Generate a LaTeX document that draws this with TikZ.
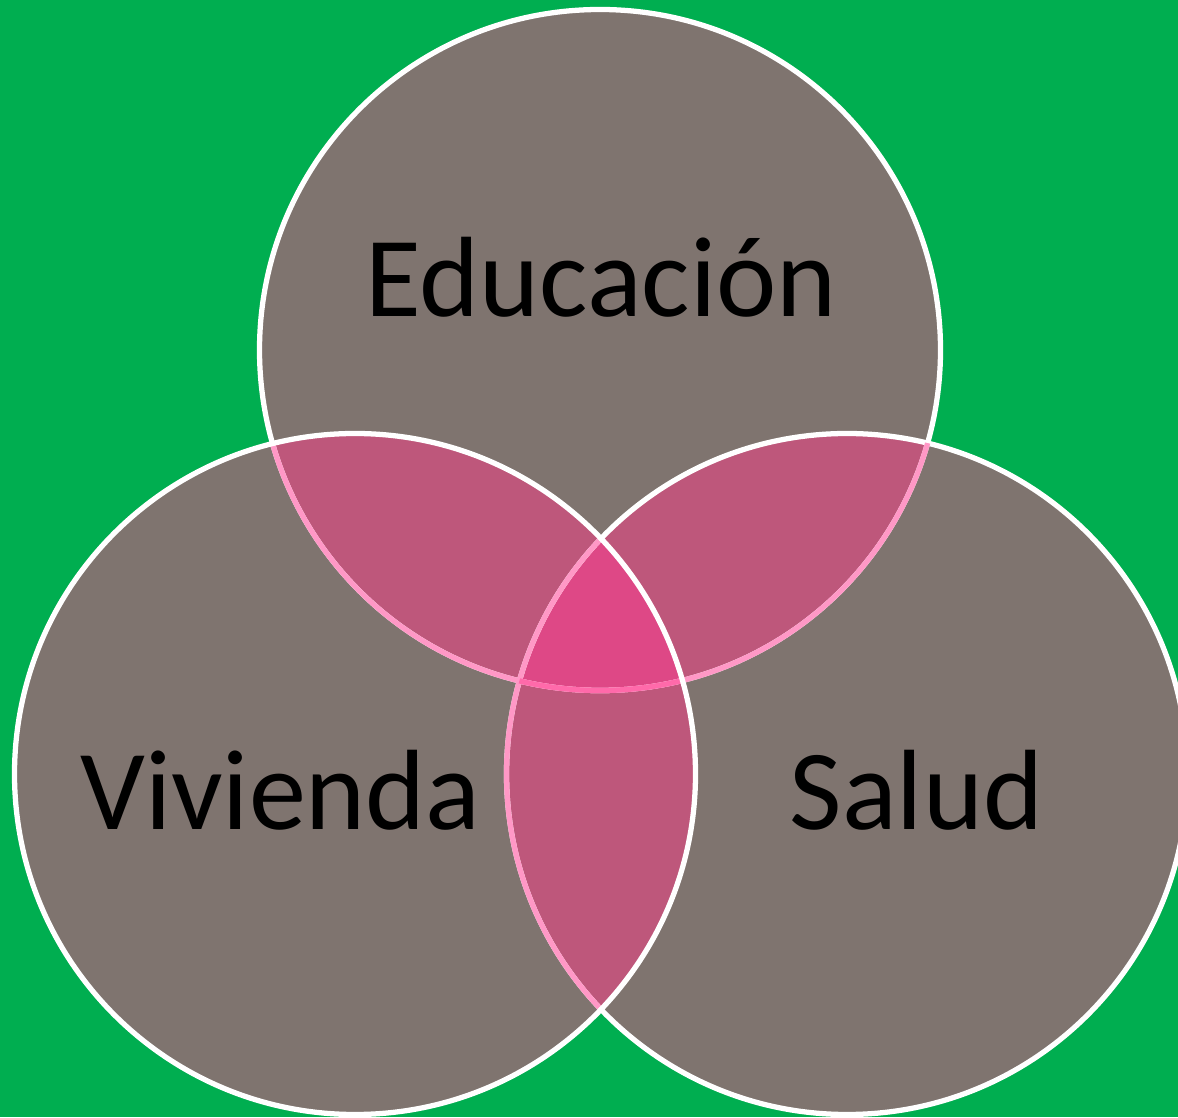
\documentclass[tikz,border=0pt]{standalone}
\usepackage{fontspec}
\setmainfont{Carlito}
\definecolor{fondo}{HTML}{00AE50}
\definecolor{gris}{HTML}{7F746F}
\definecolor{rosa}{HTML}{BE577B}
\definecolor{fucsia}{HTML}{DE4886}
\definecolor{rosaclaro}{HTML}{FF98C6}
\definecolor{rosafuerte}{HTML}{FF6AAA}
\newcommand{\radio}{6.81}

\begin{document}
\begin{tikzpicture}[borde/.style={draw=white, line width=3pt},
                    bordesuave/.style={line width=3pt},
                    etiqueta/.style={font=\fontsize{65}{78}\selectfont, anchor=base, text=black, inner sep=0pt}]
                \fill[fondo](0, 0)rectangle(23.56, 22.34);
                \useasboundingbox(0, 0)rectangle(23.56, 22.34);

                \coordinate(E)at(12.0, 15.34);
                \coordinate(V)at(7.1, 6.86);
                \coordinate(S)at(16.94, 6.86);

                % circulos
                \fill[gris](E)circle(\radio);
                \fill[gris](V)circle(\radio);
                \fill[gris](S)circle(\radio);

                % intersecciones
                \begin{scope}
                    \clip(E)circle(\radio);
                    \fill[rosa](V)circle(\radio);
                    \fill[rosa](S)circle(\radio);
                \end{scope}
                \begin{scope}
                    \clip(V)circle(\radio);
                    \fill[rosa](S)circle(\radio);
                \end{scope}
                \begin{scope}
                    \clip(E)circle(\radio);
                    \clip(V)circle(\radio);
                    \fill[fucsia](S)circle(\radio);
                \end{scope}

                % bordes
                \draw[borde](E)circle(\radio);
                \draw[borde](S)circle(\radio);
                \begin{scope}
                    \clip(V)circle(\radio);
                    \draw[bordesuave, rosaclaro](E)circle(\radio);
                    \draw[bordesuave, rosaclaro](S)circle(\radio);
                \end{scope}
                \begin{scope}
                    \clip(S)circle(\radio);
                    \draw[bordesuave, rosaclaro](E)circle(\radio);
                \end{scope}
                \begin{scope}
                    \clip(V)circle(\radio);
                    \clip(S)circle(\radio);
                    \draw[bordesuave, rosafuerte](E)circle(\radio);
                \end{scope}
                \draw[borde](V)circle(\radio);

                \node[etiqueta](edu)at(12.02, 16.0){Educación};
                \node[etiqueta](viv)at(5.61, 5.74){Vivienda};
                \node[etiqueta](sal)at(18.33, 5.74){Salud};
            \end{tikzpicture}
\end{document}
